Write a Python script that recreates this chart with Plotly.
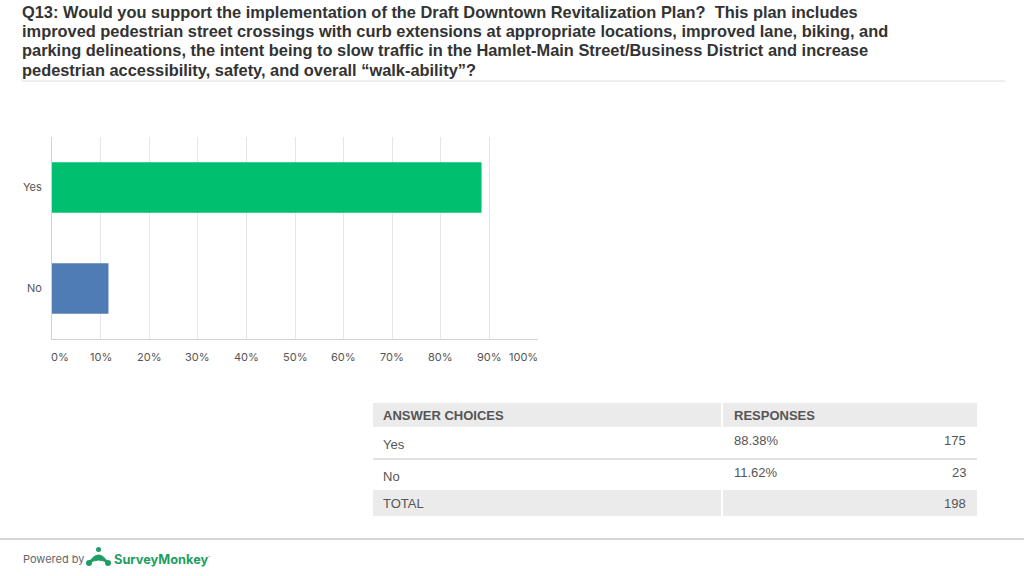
import plotly.graph_objects as go

W, H = 1024, 576

# ---- data ----
categories = ["Yes", "No"]
percent_values = [88.38, 11.62]
response_counts = [175, 23]
total_count = 198
bar_colors = ["#00BF6F", "#507CB6"]
x_tick_values = [0, 10, 20, 30, 40, 50, 60, 70, 80, 90, 100]
x_tick_labels = ["0%", "10%", "20%", "30%", "40%", "50%", "60%", "70%", "80%", "90%", "100%"]
title_lines = [
    "Q13: Would you support the implementation of the Draft Downtown Revitalization Plan?\u00a0 This plan includes",
    "improved pedestrian street crossings with curb extensions at appropriate locations, improved lane, biking, and",
    "parking delineations, the intent being to slow traffic in the Hamlet-Main Street/Business District and increase",
    "pedestrian accessibility, safety, and overall \u201cwalk-ability\u201d?",
]
table_headers = ["ANSWER CHOICES", "RESPONSES"]


def px(x, y):
    return x / W, 1 - y / H


FONT = "Liberation Sans, Arial, Helvetica, sans-serif"
TICK_FONT = "Inter, Roboto, Liberation Sans, sans-serif"

fig = go.Figure()
fig.add_trace(go.Bar(
    y=categories, x=percent_values, orientation="h",
    marker=dict(color=bar_colors, line=dict(width=0)),
    hoverinfo="skip", showlegend=False,
))

x0, y_top = px(52, 137)
x1, y_bot = px(538, 339)

fig.update_layout(
    width=W, height=H,
    margin=dict(l=0, r=0, t=0, b=0),
    paper_bgcolor="white", plot_bgcolor="white",
    bargap=0.5,
    xaxis=dict(domain=[x0, x1], range=[0, 100], tickvals=x_tick_values,
               showticklabels=False, showgrid=True, gridcolor="#e6e6e6", gridwidth=1,
               showline=True, linecolor="#d2d2d2", linewidth=1, zeroline=False,
               fixedrange=True),
    yaxis=dict(domain=[y_bot, y_top], categoryorder="array",
               categoryarray=list(reversed(categories)),
               showline=True, linecolor="#d2d2d2", linewidth=1,
               ticks="outside", ticklen=7, tickcolor="rgba(0,0,0,0)",
               tickfont=dict(family=TICK_FONT, size=11, color="#555555"),
               showgrid=False, fixedrange=True),
)

annotations = []

# x tick labels
for v, lab in zip(x_tick_values, x_tick_labels):
    shift = 0
    if v == x_tick_values[0]:
        shift = 8
    elif v == x_tick_values[-1]:
        shift = -15
    annotations.append(dict(x=v, y=px(0, 357)[1], xref="x", yref="paper",
                            text=lab, showarrow=False, xanchor="center", yanchor="middle",
                            xshift=shift,
                            font=dict(family=TICK_FONT, size=11, color="#555555")))

# title lines
for line, ly in zip(title_lines, [12, 31, 50, 70]):
    annotations.append(dict(x=px(20, 0)[0], y=px(0, ly)[1], xref="paper", yref="paper",
                            text="<b>" + line + "</b>", showarrow=False,
                            xanchor="left", yanchor="middle",
                            font=dict(family=FONT, size=16.4, color="#333333")))

shapes = []
# title separator
a, b = px(22, 81)
c, _ = px(1005, 81)
shapes.append(dict(type="line", xref="paper", yref="paper", x0=a, x1=c, y0=b, y1=b,
                   line=dict(color="#dddddd", width=1)))

# ---- table ----
tx0, tx1, tdiv = 373, 977, 722


def rect(xa, ya, xb, yb, color):
    p0 = px(xa, ya); p1 = px(xb, yb)
    shapes.append(dict(type="rect", xref="paper", yref="paper", x0=p0[0], x1=p1[0],
                       y0=p1[1], y1=p0[1], fillcolor=color, line=dict(width=0), layer="below"))


rect(tx0, 403, tdiv - 1, 427, "#ebebeb")
rect(tdiv + 1, 403, tx1, 427, "#ebebeb")
rect(tx0, 490, tdiv - 1, 516, "#ebebeb")
rect(tdiv + 1, 490, tx1, 516, "#ebebeb")
a, b = px(tx0, 459)
c, _ = px(tx1, 459)
shapes.append(dict(type="line", xref="paper", yref="paper", x0=a, x1=c, y0=b, y1=b,
                   line=dict(color="#e2e2e2", width=2)))


def txt(x, y, s, anchor="left", bold=False, size=12, color="#555555", family=FONT):
    p = px(x, y)
    annotations.append(dict(x=p[0], y=p[1], xref="paper", yref="paper",
                            text=("<b>%s</b>" % s) if bold else s, showarrow=False,
                            xanchor=anchor, yanchor="middle",
                            font=dict(family=family, size=size, color=color)))


txt(381, 415, table_headers[0], bold=True, size=13, color="#555555")
txt(732, 415, table_headers[1], bold=True, size=13, color="#555555")
for cat, pct, cnt, ry in zip(categories, percent_values, response_counts, [440, 472]):
    txt(381, ry + 4, cat, size=13)
    txt(732, ry, "%.2f%%" % pct, size=13)
    txt(968, ry, str(cnt), anchor="right", size=13)
txt(381, 503, "TOTAL", size=13)
txt(968, 503, str(total_count), anchor="right", size=13)

# ---- footer ----
a, b = px(0, 539)
c, _ = px(1024, 539)
shapes.append(dict(type="line", xref="paper", yref="paper", x0=a, x1=c, y0=b, y1=b,
                   line=dict(color="#d5d5d5", width=2)))
txt(21, 559, "Powered by", size=11, color="#666666", family=TICK_FONT)
txt(112, 559, "<b>SurveyMonkey</b>", size=12.8, color="#1f9e63", family=TICK_FONT)
txt(206, 556, "\u00b7", size=8, color="#1f9e63", family=TICK_FONT)
# simple logo mark
lx, ly = 87, 562
p = px
path = "M {} {} Q {} {} {} {} Q {} {} {} {} Z".format(
    *p(lx + 1, ly + 2), *p(lx + 11.5, ly - 16), *p(lx + 22, ly + 2),
    *p(lx + 11.5, ly - 6), *p(lx + 1, ly + 2))
shapes.append(dict(type="path", xref="paper", yref="paper", path=path,
                   fillcolor="#1f9e63", line=dict(color="#1f9e63", width=1)))
for cx in (lx + 2, lx + 21):
    c0 = px(cx - 3, ly - 2); c1 = px(cx + 3, ly + 4)
    shapes.append(dict(type="circle", xref="paper", yref="paper", x0=c0[0], x1=c1[0],
                       y0=c1[1], y1=c0[1], fillcolor="#1f9e63", line=dict(width=0)))
c0 = px(lx + 9, ly - 15); c1 = px(lx + 14, ly - 10)
shapes.append(dict(type="circle", xref="paper", yref="paper", x0=c0[0], x1=c1[0],
                   y0=c1[1], y1=c0[1], fillcolor="#1f9e63", line=dict(width=0)))

fig.update_layout(annotations=annotations, shapes=shapes)
fig.write_html("out.html", config={"displayModeBar": False},
               post_script="document.body.style.margin='0';document.body.style.padding='0';")
